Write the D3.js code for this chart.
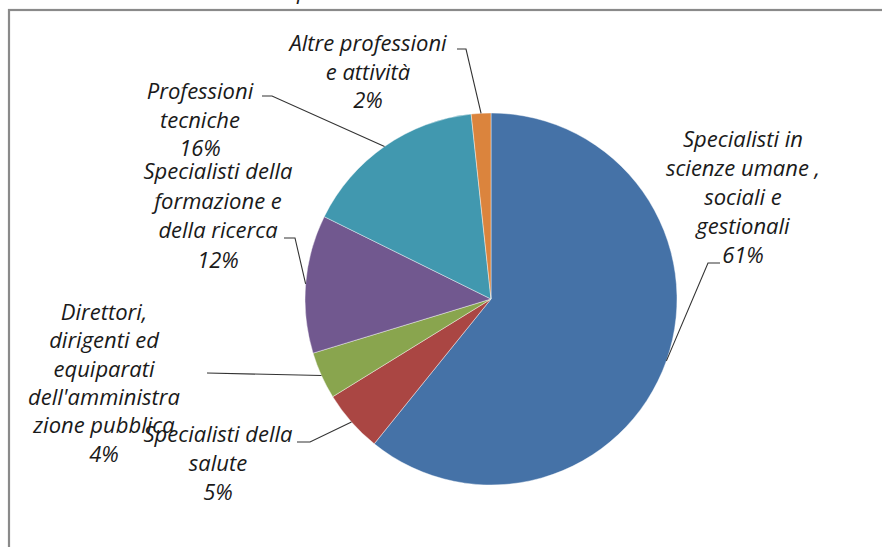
<!DOCTYPE html>
<html>
<head>
<meta charset="utf-8">
<script src="https://cdn.jsdelivr.net/npm/d3@7"></script>
<style>
  body { margin: 0; background: #fff; }
  text { font-family: "Open Sans", "Noto Sans", sans-serif; font-style: italic; fill: #1a1a1a; }
</style>
</head>
<body>
<script>
// dati
const categories = [
  "Specialisti in scienze umane , sociali e gestionali",
  "Specialisti della salute",
  "Direttori, dirigenti ed equiparati dell'amministrazione pubblica",
  "Specialisti della formazione e della ricerca",
  "Professioni tecniche",
  "Altre professioni e attività"
];
const values = [60.8, 5.4, 4.1, 12.0, 16.0, 1.7];
const labelLines = [
  ["Specialisti in", "scienze umane ,", "sociali e", "gestionali"],
  ["Specialisti della", "salute"],
  ["Direttori,", "dirigenti ed", "equiparati", "dell'amministra", "zione pubblica"],
  ["Specialisti della", "formazione e", "della ricerca"],
  ["Professioni", "tecniche"],
  ["Altre professioni", "e attività"]
];
const colors = ["#4572A7", "#AA4643", "#89A54E", "#71588F", "#4198AF", "#DB843D"];

// posizione delle etichette (x centro, prima linea di base, interlinea, gomito della linea guida)
const labelLayout = [
  { x: 743, y: 147, lh: 29, elbow: [[720, 263], [708, 263]] },
  { x: 218, y: 442, lh: 29, elbow: [[297, 442], [310, 442]] },
  { x: 104, y: 320, lh: 28.3, elbow: [[207, 373]] },
  { x: 218, y: 179, lh: 29.5, elbow: [[284, 238], [295, 238]] },
  { x: 200, y: 99, lh: 28.5, elbow: [[262, 96], [272, 96]] },
  { x: 368, y: 51, lh: 28.5, elbow: [[457, 49], [466, 49]] }
];

const width = 882, height = 547;
const cx = 491, cy = 299, r = 186;

const svg = d3.select("body").append("svg")
  .attr("width", width)
  .attr("height", height);

// cornice del grafico
svg.append("rect")
  .attr("x", 9).attr("y", 10)
  .attr("width", 900).attr("height", 600)
  .attr("fill", "none")
  .attr("stroke", "#8a8a8a")
  .attr("stroke-width", 2.2);

// resto del titolo tagliato
svg.append("text")
  .attr("x", 297).attr("y", -1)
  .style("font-size", "22px")
  .text("p");

const pie = d3.pie().sort(null).value(d => d);
const arcs = pie(values);
const arc = d3.arc().innerRadius(0).outerRadius(r);
const edge = d3.arc().innerRadius(r).outerRadius(r);

const g = svg.append("g").attr("transform", `translate(${cx},${cy})`);

g.selectAll("path.slice")
  .data(arcs)
  .enter().append("path")
  .attr("class", "slice")
  .attr("d", arc)
  .attr("fill", (d, i) => colors[i])
  .attr("stroke", "#ffffff")
  .attr("stroke-opacity", 0.6)
  .attr("stroke-width", 0.7);

// linee guida
const line = d3.line();
svg.selectAll("path.leader")
  .data(arcs)
  .enter().append("path")
  .attr("class", "leader")
  .attr("fill", "none")
  .attr("stroke", "#333")
  .attr("stroke-width", 1.1)
  .attr("d", (d, i) => {
    const c = edge.centroid(d);
    const p = [cx + c[0], cy + c[1]];
    return line([...labelLayout[i].elbow, p]);
  });

// etichette
const labels = svg.selectAll("text.lbl")
  .data(arcs)
  .enter().append("text")
  .attr("class", "lbl")
  .attr("text-anchor", "middle")
  .style("font-size", "22px");

labels.each(function(d, i) {
  const L = labelLayout[i];
  const lines = labelLines[i].concat([Math.round(d.data) + "%"]);
  d3.select(this).selectAll("tspan")
    .data(lines)
    .enter().append("tspan")
    .attr("x", L.x)
    .attr("y", (t, k) => L.y + k * L.lh)
    .text(t => t);
});
</script>
</body>
</html>
